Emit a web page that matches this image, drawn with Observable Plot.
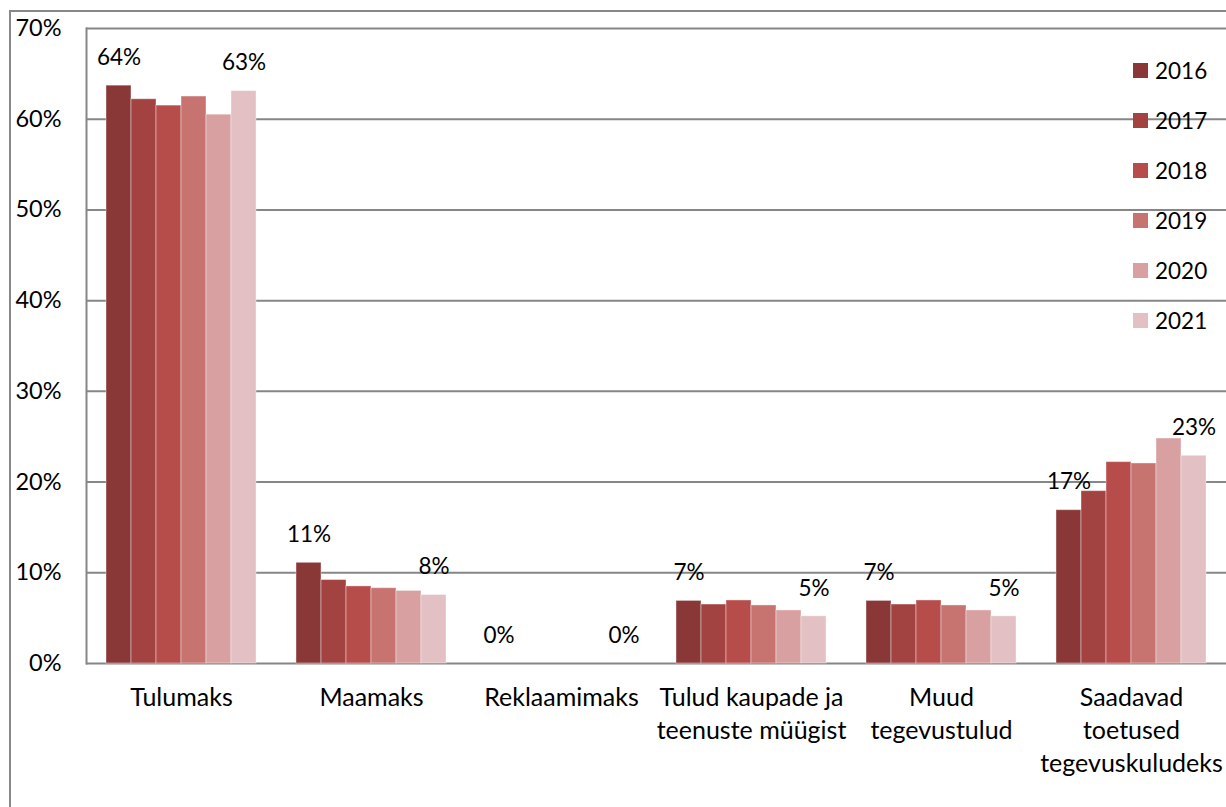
<!DOCTYPE html>
<html>
<head>
<meta charset="utf-8">
<script src="https://cdn.jsdelivr.net/npm/d3@7"></script>
<script src="https://cdn.jsdelivr.net/npm/@observablehq/plot@0.6"></script>
<style>
  body { margin: 0; background: #fff; }
  #wrap { position: relative; width: 1226px; height: 807px; overflow: hidden; font-family: Lato, sans-serif; background: #fff; }
  #border { position: absolute; left: 9px; top: 10px; width: 1300px; height: 900px; border-left: 2px solid #888; border-top: 2px solid #888; box-sizing: border-box; }
  #chart { position: absolute; left: 0; top: 0; }
  #legend { position: absolute; left: 1133px; top: 45px; }
  .item { display: flex; align-items: center; height: 50px; font-size: 22.5px; color: #000; }
  .sw { width: 15px; height: 15px; margin-right: 7px; }
</style>
</head>
<body>
<div id="wrap"><div id="border"></div><div id="chart"></div><div id="legend"></div></div>
<script>
const categories = ["Tulumaks", "Maamaks", "Reklaamimaks", "Tulud kaupade ja teenuste müügist", "Muud tegevustulud", "Saadavad toetused tegevuskuludeks"];
const categoryLabels = ["Tulumaks", "Maamaks", "Reklaamimaks", "Tulud kaupade ja\nteenuste müügist", "Muud\ntegevustulud", "Saadavad\ntoetused\ntegevuskuludeks"];
const years = ["2016", "2017", "2018", "2019", "2020", "2021"];
const v2016 = [63.7, 11.1, 0, 6.9, 6.9, 16.9];
const v2017 = [62.2, 9.2, 0, 6.5, 6.5, 19.0];
const v2018 = [61.5, 8.5, 0, 6.95, 6.95, 22.2];
const v2019 = [62.5, 8.3, 0, 6.4, 6.4, 22.05];
const v2020 = [60.5, 8.0, 0, 5.85, 5.85, 24.8];
const v2021 = [63.1, 7.55, 0, 5.2, 5.2, 22.9];
const series = [v2016, v2017, v2018, v2019, v2020, v2021];
const colors = ["#8a3737", "#a34341", "#b74d4a", "#c77370", "#d8a0a0", "#e2c0c3"];
const yTicks = [0, 10, 20, 30, 40, 50, 60, 70];

const data = years.flatMap((year, j) => categories.map((category, i) => ({category, year, value: series[j][i]})));
const bars = data.filter(d => d.value > 0);
const labelled = data.filter(d => d.year === years[0] || d.year === years[years.length - 1]);

const chart = Plot.plot({
  width: 1226,
  height: 807,
  marginLeft: 85,
  marginRight: 0,
  marginTop: 28,
  marginBottom: 144,
  style: {fontFamily: "Lato, sans-serif", fontSize: "22px", color: "#000", background: "transparent", overflow: "visible"},
  fx: {domain: categories, paddingInner: 0, paddingOuter: 0, label: null},
  x: {domain: years, paddingInner: 0, paddingOuter: 0.73, axis: null},
  y: {domain: [0, 70], label: null},
  color: {domain: years, range: colors},
  marks: [
    Plot.gridY(yTicks, {stroke: "#868686", strokeWidth: 2, strokeOpacity: 1}),
    Plot.barY(bars, {fx: "category", x: "year", y: "value", fill: "year", stroke: "#fff", strokeOpacity: 0.4, strokeWidth: 1}),
    Plot.text(labelled, {fx: "category", x: "year", y: "value", text: d => Math.round(d.value) + "%", dy: -28, fontSize: 22.5, fill: "#000"}),
    Plot.axisY(yTicks, {tickFormat: d => d + "%", tickSize: 0, tickPadding: 25, fontSize: 23.5, fill: "#000"}),
    Plot.axisFx({anchor: "bottom", tickSize: 0, tickPadding: 19, tickFormat: c => categoryLabels[categories.indexOf(c)], fontSize: 25, lineHeight: 1.32, fill: "#000", label: null}),
    Plot.frame({anchor: "left", facetAnchor: "left", stroke: "#868686", strokeWidth: 2, strokeOpacity: 1})
  ]
});
document.getElementById("chart").appendChild(chart);

const color = chart.scale("color");
const legend = d3.select("#legend");
years.forEach(y => {
  const item = legend.append("div").attr("class", "item");
  item.append("div").attr("class", "sw").style("background", color.apply(y));
  item.append("span").text(y);
});
</script>
</body>
</html>
